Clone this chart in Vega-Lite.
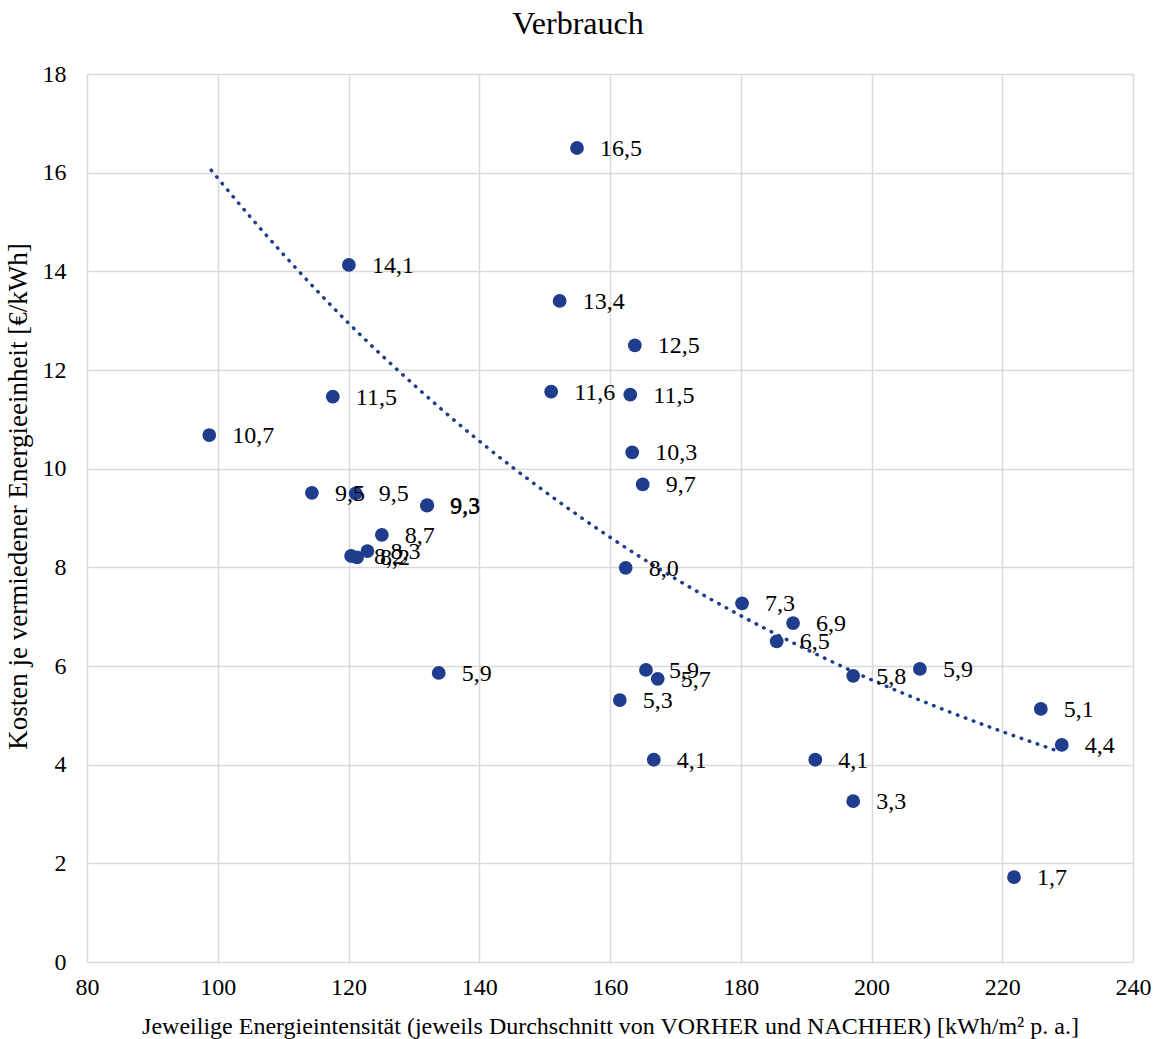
{
  "$schema": "https://vega.github.io/schema/vega-lite/v6.json",
  "autosize": "none",
  "width": 1046,
  "height": 888,
  "padding": {"left": 87, "top": 74, "right": 27, "bottom": 77},
  "background": "white",
  "title": {"text": "Verbrauch", "font": "Liberation Serif", "fontSize": 32, "fontWeight": "normal", "color": "#000000", "anchor": "middle", "dx": -32, "offset": 21},
  "config": {
    "view": {"stroke": null},
    "font": "Liberation Serif"
  },
  "datasets": {
    "points": [
      {"x": 154.95, "y": 16.5, "label": "16,5"},
      {"x": 120.06, "y": 14.13, "label": "14,1"},
      {"x": 152.3, "y": 13.4, "label": "13,4"},
      {"x": 163.8, "y": 12.5, "label": "12,5"},
      {"x": 117.6, "y": 11.46, "label": "11,5"},
      {"x": 151.0, "y": 11.56, "label": "11,6"},
      {"x": 163.1, "y": 11.5, "label": "11,5"},
      {"x": 98.7, "y": 10.68, "label": "10,7"},
      {"x": 163.4, "y": 10.33, "label": "10,3"},
      {"x": 165.0, "y": 9.68, "label": "9,7"},
      {"x": 114.4, "y": 9.51, "label": "9,5"},
      {"x": 121.1, "y": 9.5, "label": "9,5"},
      {"x": 132.0, "y": 9.25, "label": "9,3"},
      {"x": 132.05, "y": 9.26, "label": "9,3"},
      {"x": 125.1, "y": 8.66, "label": "8,7"},
      {"x": 120.4, "y": 8.23, "label": "8,2"},
      {"x": 121.3, "y": 8.2, "label": "8,2"},
      {"x": 122.9, "y": 8.33, "label": "8,3"},
      {"x": 162.4, "y": 7.99, "label": "8,0"},
      {"x": 180.2, "y": 7.27, "label": "7,3"},
      {"x": 188.0, "y": 6.87, "label": "6,9"},
      {"x": 185.5, "y": 6.5, "label": "6,5"},
      {"x": 197.2, "y": 5.8, "label": "5,8"},
      {"x": 207.4, "y": 5.94, "label": "5,9"},
      {"x": 225.9, "y": 5.13, "label": "5,1"},
      {"x": 229.1, "y": 4.4, "label": "4,4"},
      {"x": 133.8, "y": 5.86, "label": "5,9"},
      {"x": 165.5, "y": 5.92, "label": "5,9"},
      {"x": 167.3, "y": 5.74, "label": "5,7"},
      {"x": 161.5, "y": 5.31, "label": "5,3"},
      {"x": 166.7, "y": 4.1, "label": "4,1"},
      {"x": 191.4, "y": 4.1, "label": "4,1"},
      {"x": 197.2, "y": 3.26, "label": "3,3"},
      {"x": 221.8, "y": 1.72, "label": "1,7"}
    ],
    "trend": [
      {"x": 99, "y": 16.05},
      {"x": 105, "y": 15.1},
      {"x": 110, "y": 14.35},
      {"x": 120, "y": 12.95},
      {"x": 130, "y": 11.7},
      {"x": 140, "y": 10.56},
      {"x": 150, "y": 9.54},
      {"x": 160, "y": 8.61},
      {"x": 170, "y": 7.77},
      {"x": 180, "y": 7.02},
      {"x": 190, "y": 6.34},
      {"x": 200, "y": 5.72},
      {"x": 210, "y": 5.17},
      {"x": 220, "y": 4.67},
      {"x": 228, "y": 4.3}
    ],
    "refs": [
      {"y": 8},
      {"y": 6}
    ]
  },
  "encoding": {
    "x": {
      "field": "x", "type": "quantitative",
      "scale": {"domain": [80, 240], "nice": false, "zero": false},
      "axis": {
        "values": [80, 100, 120, 140, 160, 180, 200, 220, 240],
        "title": "Jeweilige Energieintensität (jeweils Durchschnitt von VORHER und NACHHER) [kWh/m² p. a.]",
        "titleFont": "Liberation Serif", "titleFontSize": 24, "titleFontWeight": "normal", "titleColor": "#000000", "titlePadding": 15,
        "labelFont": "Liberation Serif", "labelFontSize": 24, "labelColor": "#000000", "labelPadding": 13, "labelFlush": false, "labelOverlap": false,
        "grid": true, "gridColor": "#d9d9d9", "gridWidth": 1.5,
        "domain": false, "ticks": false
      }
    },
    "y": {
      "field": "y", "type": "quantitative",
      "scale": {"domain": [0, 18], "nice": false},
      "axis": {
        "values": [0, 2, 4, 6, 8, 10, 12, 14, 16, 18],
        "title": "Kosten je vermiedener Energieeinheit [€/kWh]",
        "titleFont": "Liberation Serif", "titleFontSize": 27, "titleFontWeight": "normal", "titleColor": "#000000", "titlePadding": 10, "titleY": 422,
        "labelFont": "Liberation Serif", "labelFontSize": 24, "labelColor": "#000000", "labelPadding": 21, "labelFlush": false, "labelOverlap": false,
        "grid": true, "gridColor": "#d9d9d9", "gridWidth": 1.5,
        "domain": false, "ticks": false
      }
    }
  },
  "layer": [
    {
      "data": {"name": "refs"},
      "mark": {"type": "rule", "color": "#ff0000", "strokeWidth": 2, "strokeDash": [8, 5]},
      "encoding": {"y": {"field": "y", "type": "quantitative"}, "x": {"datum": 80}, "x2": {"datum": 240}}
    },
    {
      "data": {"name": "trend"},
      "mark": {"type": "line", "color": "#1f3d8c", "strokeWidth": 3.5, "strokeDash": [0.5, 8], "strokeCap": "round", "interpolate": "monotone"},
      "encoding": {}
    },
    {
      "data": {"name": "points"},
      "mark": {"type": "circle", "color": "#1f3d8c", "opacity": 1, "size": 190},
      "encoding": {}
    },
    {
      "data": {"name": "points"},
      "mark": {"type": "text", "align": "left", "baseline": "middle", "dx": 23, "dy": 1, "font": "Liberation Serif", "fontSize": 24, "color": "#000000"},
      "encoding": {"text": {"field": "label", "type": "nominal"}}
    }
  ]
}
